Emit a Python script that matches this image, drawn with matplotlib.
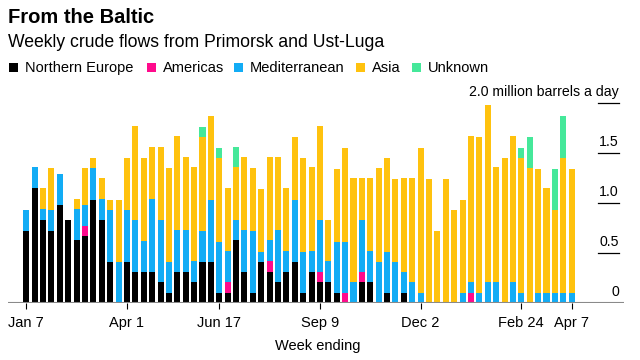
import numpy as np
import matplotlib
matplotlib.use("Agg")
import matplotlib.pyplot as plt
from matplotlib.patches import Rectangle

plt.rcParams['font.family'] = ['Liberation Sans', 'DejaVu Sans']

# weekly flows, million barrels a day, week ending Jan 7 2023 .. Apr 7 2024
north = [0.72, 1.15, 0.83, 0.72, 0.98, 0.83, 0.63, 0.67, 1.03, 0.83, 0.41, 0, 0.41, 0.31, 0.31, 0.31,
         0.21, 0.10, 0.31, 0.31, 0.21, 0.41, 0.41, 0.10, 0.10, 0.63, 0.31, 0.10, 0.41, 0.31, 0.21, 0.31, 0.41, 0.10,
         0.31, 0.21, 0.21, 0.10, 0, 0, 0.21, 0.21, 0, 0.10, 0, 0.10, 0, 0,
         0, 0, 0, 0, 0, 0, 0, 0, 0, 0, 0, 0, 0, 0, 0, 0, 0, 0]
americas = [0, 0, 0, 0, 0, 0, 0, 0.10, 0, 0, 0, 0, 0, 0, 0, 0,
            0, 0, 0, 0, 0, 0, 0, 0, 0.11, 0, 0, 0, 0, 0.11, 0, 0, 0, 0,
            0, 0.10, 0, 0, 0.10, 0, 0.10, 0, 0, 0, 0, 0, 0, 0,
            0, 0, 0, 0, 0, 0.10, 0, 0, 0, 0, 0, 0, 0, 0, 0, 0, 0, 0]
med = [0.21, 0.21, 0.11, 0.21, 0.31, 0, 0.31, 0.21, 0.32, 0.21, 0.52, 0.41, 0.52, 0.52, 0.31, 0.73,
       0.62, 0.31, 0.42, 0.42, 0.21, 0.31, 0.62, 0.51, 0.31, 0.20, 0.42, 0.62, 0.10, 0.21, 0.52, 0.21, 0.62, 0.41,
       0.21, 0.52, 0.21, 0.51, 0.51, 0.21, 0.52, 0.31, 0.41, 0.41, 0.41, 0.21, 0.21, 0.10,
       0, 0, 0, 0, 0.10, 0.11, 0.10, 0.21, 0.21, 0, 0.21, 0.10, 0, 0.10, 0.10, 0.10, 0.10, 0.10]
asia = [0, 0, 0.21, 0.42, 0, 0, 0.10, 0.37, 0.10, 0.21, 0.10, 0.62, 0.52, 0.94, 0.83, 0.52,
        0.73, 0.94, 0.94, 0.73, 0.94, 0.94, 0.84, 0.84, 0.63, 0.53, 0.73, 0.63, 0.63, 0.83, 0.73, 0.63, 0.63, 0.94,
        0.84, 0.94, 0.41, 0.73, 0.94, 1.04, 0.42, 0.73, 0.94, 0.94, 0.83, 0.94, 1.04, 1.45,
        1.24, 0.72, 1.24, 0.93, 0.93, 1.46, 1.56, 1.77, 1.15, 1.45, 1.46, 1.35, 1.35, 1.24, 1.05, 0.83, 1.35, 1.24]
unknown = [0] * 66
for k, v in {21: 0.10, 23: 0.10, 25: 0.20, 59: 0.10, 60: 0.31, 63: 0.41, 64: 0.42}.items():
    unknown[k] = v

series = [("Northern Europe", north, "#000000"),
          ("Americas", americas, "#ff0a8c"),
          ("Mediterranean", med, "#12acf5"),
          ("Asia", asia, "#ffc20e"),
          ("Unknown", unknown, "#45e89a")]

tick_idx = [0, 12, 23, 35, 47, 59, 65]
tick_labels = ["Jan 7", "Apr 1", "Jun 17", "Sep 9", "Dec 2", "Feb 24", "Apr 7"]
y_vals = [0.5, 1.0, 1.5, 2.0]
y_labels = ["0.5", "1.0", "1.5", "2.0 million barrels a day"]

fig = plt.figure(figsize=(6.4, 3.6), dpi=100)
W, H = 640, 360
ax = fig.add_axes([8 / W, 57 / H, 616 / W, 210 / H])

x = np.arange(len(north))
bottom = np.zeros(len(north))
for name, vals, col in series:
    v = np.array(vals, dtype=float)
    ax.bar(x, v, bottom=bottom, width=0.72, color=col, linewidth=0)
    bottom += v

ax.set_xlim((8 - 26.3) / 8.39, (624 - 26.3) / 8.39)
ax.set_ylim(0, 2.1)
for s in ax.spines.values():
    s.set_visible(False)
ax.axhline(0, color="#8a8a8a", lw=1.5, zorder=3)
ax.set_yticks([])
ax.set_xticks(tick_idx)
ax.set_xticklabels(tick_labels, fontsize=10.5)
ax.tick_params(axis="x", length=4.5, width=0.8, color="black", pad=5)

# right-hand scale: short rules with labels above
x0 = (598 - 8) / 616
x1 = (619 - 8) / 616
for v, lab in zip(y_vals, y_labels):
    ax.axhline(v, xmin=x0, xmax=x1, color="black", lw=0.9)
for v, lab in zip([0] + y_vals, ["0"] + y_labels):
    ax.text(x1, v + 0.07, lab, transform=ax.get_yaxis_transform(), ha="right",
            va="baseline", fontsize=10.2)

fig.text(318 / W, 1 - 350 / H, "Week ending", ha="center", va="baseline", fontsize=10.5)

fig.text(8 / W, 1 - 23 / H, "From the Baltic", fontsize=14.5, fontweight="bold", va="baseline")
fig.text(8 / W, 1 - 47 / H, "Weekly crude flows from Primorsk and Ust-Luga", fontsize=12.7, va="baseline")

sq_x = [9, 147, 234, 356, 412]
for (name, vals, col), sx in zip(series, sq_x):
    fig.add_artist(Rectangle((sx / W, 1 - 72 / H), 9 / W, 9 / H, transform=fig.transFigure,
                             color=col, lw=0))
    fig.text((sx + 16) / W, 1 - 72 / H, name, fontsize=10.5, va="baseline")

fig.savefig("out.png", dpi=100)
